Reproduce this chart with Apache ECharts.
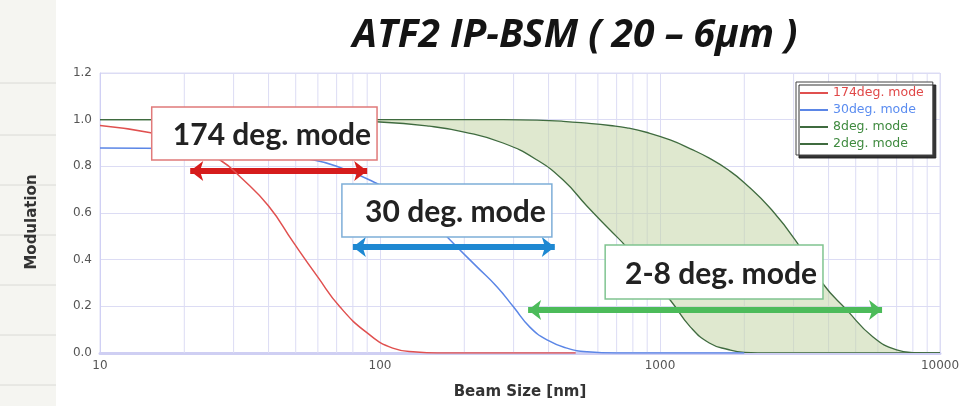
<!DOCTYPE html>
<html><head><meta charset="utf-8">
<script src="https://cdn.jsdelivr.net/npm/echarts@6/dist/echarts.min.js"></script>
<style>html,body{margin:0;padding:0;background:#fff}#c{width:966px;height:406px}</style>
</head><body><div id="c"></div>
<script>
// ---- data ----
const titleText = 'ATF2 IP-BSM ( 20 – 6μm )';
const xName = 'Beam Size [nm]';
const yName = 'Modulation';
const xTickLabels = [10, 100, 1000, 10000];
const yTickLabels = [0, 0.2, 0.4, 0.6, 0.8, 1.0, 1.2];
const minorGridX = [20,30,40,50,60,70,80,90,200,300,400,500,600,700,800,900,2000,3000,4000,5000,6000,7000,8000,9000];

const seriesNames = ['174deg. mode', '30deg. mode', '8deg. mode', '2deg. mode'];

const redX = [10,15,20,27,32,40,49,60,72,90,111,135,160,200,300,500];
const redY = [0.975,0.945,0.905,0.825,0.75,0.63,0.475,0.325,0.197,0.086,0.021,0.004,0,0,0,0];

const blueX = [10,20,30,40,58,72,95,120,150,178,222,262,300,343,395,465,550,700,1000,2000];
const blueY = [0.879,0.876,0.866,0.852,0.827,0.795,0.733,0.665,0.58,0.484,0.369,0.283,0.197,0.111,0.056,0.021,0.005,0,0,0];

const greenX  = [10,50,100,150,200,275,364,451,548,663,762,900,1087,1285,1500,1750,2000,2500,3100,3800,4650,5750,7000,8000,10000];
const green8Y = [1.0,1.0,0.99,0.972,0.947,0.90,0.827,0.741,0.63,0.527,0.452,0.34,0.227,0.111,0.043,0.015,0.003,0,0,0,0,0,0,0,0];
const green2Y = [1.0,1.0,1.0,1.0,1.0,1.0,0.998,0.993,0.985,0.975,0.965,0.945,0.913,0.875,0.835,0.785,0.73,0.615,0.47,0.30,0.184,0.07,0.013,0.002,0];

// annotations (data coordinates)
const boxText   = ['174 deg. mode', '30 deg. mode', '2-8 deg. mode'];
const boxLeft   = [15.3, 73.1, 637];
const boxRight  = [97.6, 411, 3820];
const boxTop    = [1.054, 0.724, 0.463];
const boxBottom = [0.827, 0.497, 0.231];
const arrowFrom  = [21, 80, 338];
const arrowTo    = [90, 421, 6210];
const arrowLevel = [0.78, 0.454, 0.184];

// ---- styles ----
const lineColors = ['#e0504f', '#5b86e6', '#3f6b3f', '#3f6b3f'];
const legendTextColors = ['#e04848', '#5a8cf0', '#3f8a3f', '#3f8a3f'];
const arrowColors = ['#d61c1c', '#1e88d2', '#4cbb5a'];
const boxBorders = ['#e07a7a', '#7eaed8', '#80c490'];
const gridColor = '#dcdcf4';
const bandFill = 'rgba(196,214,168,0.55)';
const FONT = 'DejaVu Sans';
const SMOOTH = 0.5;

const pairs = (xs, ys) => xs.map((x, i) => [x, ys[i]]);
const gridData = [];
minorGridX.forEach(v => { gridData.push([v, 0]); gridData.push([v, 1.2]); gridData.push([v, '-']); });

// smoothing of pixel points into cubic segments (same scheme as ECharts' line smoothing)
function smoothSegs(pts, smooth) {
  const segs = [];
  let cp0 = pts[0];
  const cl = (v, a, b) => Math.max(Math.min(v, Math.max(a, b)), Math.min(a, b));
  for (let i = 1; i < pts.length; i++) {
    const prev = pts[i - 1], cur = pts[i], next = pts[i + 1];
    let cp1, nextCp0;
    if (!next) { cp1 = cur; nextCp0 = cur; }
    else {
      let vx = next[0] - prev[0], vy = next[1] - prev[1];
      const lp = Math.hypot(cur[0] - prev[0], cur[1] - prev[1]) || 1e-6;
      const ln = Math.hypot(next[0] - cur[0], next[1] - cur[1]) || 1e-6;
      const r = ln / (ln + lp);
      let nx = cl(cur[0] + vx * smooth * r, next[0], cur[0]);
      let ny = cl(cur[1] + vy * smooth * r, next[1], cur[1]);
      vx = nx - cur[0]; vy = ny - cur[1];
      let c1x = cl(cur[0] - vx * lp / ln, prev[0], cur[0]);
      let c1y = cl(cur[1] - vy * lp / ln, prev[1], cur[1]);
      vx = cur[0] - c1x; vy = cur[1] - c1y;
      nx = cur[0] + vx * ln / lp; ny = cur[1] + vy * ln / lp;
      cp1 = [c1x, c1y]; nextCp0 = [nx, ny];
    }
    segs.push([prev, cp0, cp1, cur]);
    cp0 = nextCp0;
  }
  return segs;
}
const f = p => p[0].toFixed(2) + ' ' + p[1].toFixed(2);
function pathForward(segs) {
  let d = 'M' + f(segs[0][0]);
  segs.forEach(s => { d += ' C' + f(s[1]) + ' ' + f(s[2]) + ' ' + f(s[3]); });
  return d;
}
function curvePoints(api, xs, ys) { return xs.map((x, i) => api.coord([x, ys[i]])); }

const chart = echarts.init(document.getElementById('c'), null, {renderer: 'canvas'});

const common = {type: 'line', showSymbol: false, symbol: 'none', smooth: SMOOTH, animation: false};

function greenCurve(name, ys) {
  return {type: 'custom', name: name, z: 3, silent: true, clip: true, data: [[greenX[0], ys[0]]],
    itemStyle: {color: lineColors[2]},
    renderItem: function (params, api) {
      const segs = smoothSegs(curvePoints(api, greenX, ys), SMOOTH);
      return {type: 'path', shape: {pathData: pathForward(segs)},
        style: {fill: null, stroke: lineColors[2], lineWidth: 1.3}};
    }};
}

const option = {
  animation: false,
  backgroundColor: '#ffffff',
  title: {
    text: titleText, left: 570, top: 11, textAlign: 'center',
    textStyle: {fontFamily: 'Open Sans', fontSize: 39, fontWeight: 'bold', fontStyle: 'italic', color: '#141414'}
  },
  legend: {
    orient: 'vertical', left: 796, top: 82, itemWidth: 28, itemHeight: 2, icon: 'rect',
    itemGap: 3, padding: [4, 9, 4, 4],
    backgroundColor: '#fff', borderColor: '#444', borderWidth: 1,
    shadowColor: 'rgba(30,30,30,0.9)', shadowBlur: 0, shadowOffsetX: 3, shadowOffsetY: 3,
    textStyle: {fontFamily: FONT, fontSize: 12.5, lineHeight: 14, padding: [0, 0, 0, 0]},
    data: seriesNames.map((n, i) => ({name: n, itemStyle: {color: lineColors[i]}, textStyle: {color: legendTextColors[i]}}))
  },
  grid: {left: 100, right: 26, top: 73, bottom: 53, show: true, borderColor: gridColor, borderWidth: 1},
  xAxis: {
    type: 'log', logBase: 10, min: xTickLabels[0], max: xTickLabels[xTickLabels.length - 1],
    name: xName, nameLocation: 'middle', nameGap: 32,
    nameTextStyle: {fontFamily: FONT, fontWeight: 'bold', fontSize: 15, color: '#333'},
    axisLine: {show: true, lineStyle: {color: '#cfcff3', width: 3}},
    axisTick: {show: false},
    axisLabel: {fontFamily: FONT, fontSize: 12, color: '#555', margin: 7,
      formatter: v => String(Math.round(v))},
    splitLine: {show: true, lineStyle: {color: gridColor, width: 1}}
  },
  yAxis: {
    type: 'value', min: yTickLabels[0], max: yTickLabels[yTickLabels.length - 1], interval: 0.2,
    name: yName, nameLocation: 'middle', nameGap: 60, nameRotate: 90,
    nameTextStyle: {fontFamily: FONT, fontWeight: 'bold', fontSize: 15, color: '#333', padding: [0, 18, 0, 0]},
    axisLine: {show: true, lineStyle: {color: '#d0d0f4', width: 1}},
    axisTick: {show: false},
    axisLabel: {fontFamily: FONT, fontSize: 12, color: '#555', margin: 8,
      formatter: v => v.toFixed(1)},
    splitLine: {show: true, lineStyle: {color: gridColor, width: 1}}
  },
  series: [
    {type: 'line', name: 'grid', data: gridData, symbol: 'none', silent: true, connectNulls: false,
      lineStyle: {color: gridColor, width: 1}, z: 1, animation: false, legendHoverLink: false},
    {type: 'custom', name: 'band', silent: true, z: 2, clip: true, data: [[greenX[0], green2Y[0]]],
      renderItem: function (params, api) {
        const up = smoothSegs(curvePoints(api, greenX, green2Y), SMOOTH);
        const lo = smoothSegs(curvePoints(api, greenX, green8Y), SMOOTH);
        let d = pathForward(up);
        d += ' L' + f(lo[lo.length - 1][3]);
        for (let i = lo.length - 1; i >= 0; i--) {
          const s = lo[i];
          d += ' C' + f(s[2]) + ' ' + f(s[1]) + ' ' + f(s[0]);
        }
        d += ' Z';
        return {type: 'path', shape: {pathData: d}, style: {fill: bandFill, stroke: null}};
      }},
    greenCurve(seriesNames[2], green8Y),
    greenCurve(seriesNames[3], green2Y),
    Object.assign({}, common, {name: seriesNames[1], data: pairs(blueX, blueY),
      lineStyle: {color: lineColors[1], width: 1.5}, itemStyle: {color: lineColors[1]}, z: 4}),
    Object.assign({}, common, {name: seriesNames[0], data: pairs(redX, redY),
      lineStyle: {color: lineColors[0], width: 1.5}, itemStyle: {color: lineColors[0]}, z: 5,
      markLine: {
        silent: true, symbol: ['arrow', 'arrow'], symbolSize: [15, 13], label: {show: false},
        data: arrowFrom.map((x0, i) => [
          {coord: [x0, arrowLevel[i]], lineStyle: {color: arrowColors[i], width: 6, type: 'solid'}, itemStyle: {color: arrowColors[i]}},
          {coord: [arrowTo[i], arrowLevel[i]]}
        ])
      }})
  ]
};
chart.setOption(option);

// page strip on the left (slide background)
const gfx = [{type: 'rect', z: -1, silent: true, shape: {x: 0, y: 0, width: 56, height: 406}, style: {fill: '#f5f5f1'}}];
[83, 135, 185, 235, 285, 335, 385].forEach(y => gfx.push({type: 'line', z: -1, silent: true,
  shape: {x1: 0, y1: y, x2: 56, y2: y}, style: {stroke: '#dadad6', lineWidth: 1}}));

for (let i = 0; i < boxText.length; i++) {
  const p1 = chart.convertToPixel({gridIndex: 0}, [boxLeft[i], boxTop[i]]);
  const p2 = chart.convertToPixel({gridIndex: 0}, [boxRight[i], boxBottom[i]]);
  gfx.push({type: 'rect', z: 100, silent: true,
    shape: {x: p1[0], y: p1[1], width: p2[0] - p1[0], height: p2[1] - p1[1]},
    style: {fill: '#ffffff', stroke: boxBorders[i], lineWidth: 1.5}});
  gfx.push({type: 'text', z: 101, silent: true, x: p2[0] - 6, y: (p1[1] + p2[1]) / 2 + 2,
    style: {text: boxText[i], font: 'bold 30px Lato', fill: '#222', align: 'right', verticalAlign: 'middle'}});
}
chart.setOption({graphic: gfx});
</script>
</body></html>
